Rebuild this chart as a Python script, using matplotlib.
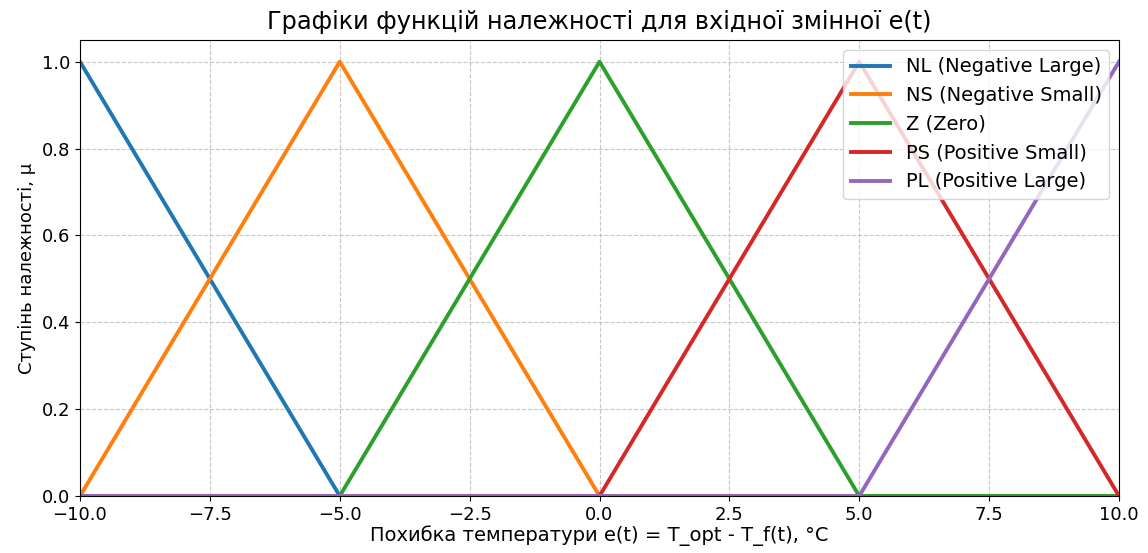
import matplotlib
matplotlib.use("Agg")
import matplotlib.pyplot as plt

# Breakpoints of each triangular membership function over e(t)
labels = ["NL (Negative Large)", "NS (Negative Small)", "Z (Zero)",
          "PS (Positive Small)", "PL (Positive Large)"]
nl_x = [-10, -5, 10]
nl_y = [1, 0, 0]
ns_x = [-10, -5, 0, 10]
ns_y = [0, 1, 0, 0]
z_x = [-10, -5, 0, 5, 10]
z_y = [0, 0, 1, 0, 0]
ps_x = [-10, 0, 5, 10]
ps_y = [0, 0, 1, 0]
pl_x = [-10, 5, 10]
pl_y = [0, 0, 1]

series = [(nl_x, nl_y), (ns_x, ns_y), (z_x, z_y), (ps_x, ps_y), (pl_x, pl_y)]
colors = ["#1f77b4", "#ff7f0e", "#2ca02c", "#d62728", "#9467bd"]

fig = plt.figure(figsize=(11.48, 5.53), dpi=100)
ax = fig.add_axes([80 / 1148, 1 - 496 / 553, (1119 - 80) / 1148, (496 - 40) / 553])

for (xs, ys), lab, c in zip(series, labels, colors):
    ax.plot(xs, ys, color=c, linewidth=2.8, label=lab)

ax.set_xlim(-10, 10)
ax.set_ylim(0, 1.05)
ax.set_title("Графіки функцій належності для вхідної змінної e(t)", fontsize=17.3, pad=8)
ax.set_xlabel("Похибка температури e(t) = T_opt - T_f(t), °C", fontsize=14, labelpad=1)
ax.set_ylabel("Ступінь належності, μ", fontsize=13)
ax.tick_params(labelsize=13)
ax.grid(True, linestyle="--", alpha=0.7)
ax.legend(loc="upper right", fontsize=14)

fig.savefig("out.png", dpi=100)
